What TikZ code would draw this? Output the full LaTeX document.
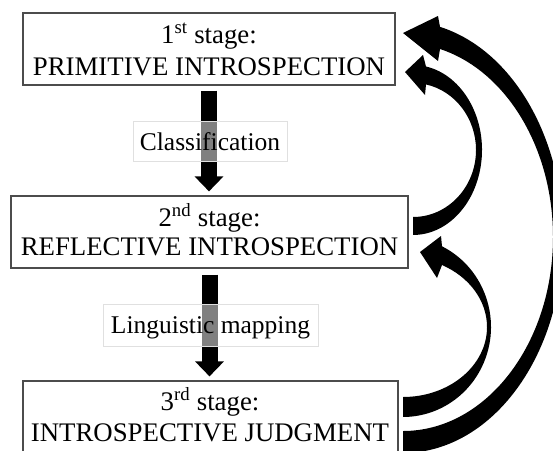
\documentclass[tikz,border=0pt]{standalone}
\usepackage{fontspec}
\setmainfont{Liberation Serif}
\usetikzlibrary{arrows.meta,calc}
\tikzset{
  stagebox/.style={draw=black!70, line width=1.2pt, minimum width=#1, minimum height=72, inner sep=0pt},
  stagetxt/.style={font=\fontsize{26.8}{30}\selectfont, inner sep=0pt, anchor=base},
  lbl/.style={draw=black!12, line width=0.8pt, fill=white, fill opacity=0.5, text opacity=1,
    font=\fontsize{25.5}{28}\selectfont, inner sep=0pt, text height=17pt, text depth=0pt},
  blockarrow/.style={line width=16pt, -{Triangle[length=15pt,width=28pt]}, black},
  curvedarrow/.style={fill=black}
}
\begin{document}
\begin{tikzpicture}[x=1pt,y=-1pt]
\useasboundingbox (0,0) rectangle (553,450);
\clip (0,0) rectangle (553,450);
\fill[white] (0,0) rectangle (553,450);

% stage boxes
\node[stagebox=372] (b1) at (209,49) {};
\node[stagebox=397] (b2) at (209.5,232) {};
\node[stagebox=375] (b3) at (210.5,417) {};

\node[stagetxt] (t1a) at (209,43) {1\textsuperscript{st} stage:};
\node[stagetxt] (t1b) at (209,75) {PRIMITIVE INTROSPECTION};
\node[stagetxt] (t2a) at (209.5,226) {2\textsuperscript{nd} stage:};
\node[stagetxt] (t2b) at (209.5,255) {REFLECTIVE INTROSPECTION};
\node[stagetxt] (t3a) at (210,410) {3\textsuperscript{rd} stage:};
\node[stagetxt] (t3b) at (210,441) {INTROSPECTIVE JUDGMENT};

% straight block arrows
\draw[blockarrow] ($(b1.south)+(0,5)$) -- ($(b1.south |- b2.north)+(0,-4)$);
\draw[blockarrow] ($(b2.south)+(0,6)$) -- ($(b2.south |- b3.north)+(0,-4)$);

% labels over the arrows
\node[lbl, minimum width=154, minimum height=40] (c1) at (210,141.5) {Classification};
\node[lbl, minimum width=215, minimum height=42] (c2) at (210.5,325) {Linguistic mapping};

% curved arrows on the right
% 3rd -> 1st
\fill[curvedarrow] (403,431) arc[start angle=90, end angle=-75.72, x radius=150, y radius=194]
  -- (438,61) -- (403,33) -- (438,16) -- (440,26.85)
  arc[start angle=-76.63, end angle=90, x radius=160, y radius=216] -- cycle;
% 2nd -> 1st
\fill[curvedarrow] (413,217) arc[start angle=90, end angle=-78.09, x radius=63, y radius=67]
  -- (425,95) -- (405,72) -- (423,55) -- (426,66.5)
  arc[start angle=-79.14, end angle=90, x radius=69, y radius=85] -- cycle;
% 3rd -> 2nd
\fill[curvedarrow] (403,397) arc[start angle=90, end angle=-62.34, x radius=84, y radius=70]
  -- (437,278) -- (420,252) -- (441,236) -- (442,246.3)
  arc[start angle=-63.69, end angle=90, x radius=88, y radius=90] -- cycle;
\end{tikzpicture}
\end{document}
